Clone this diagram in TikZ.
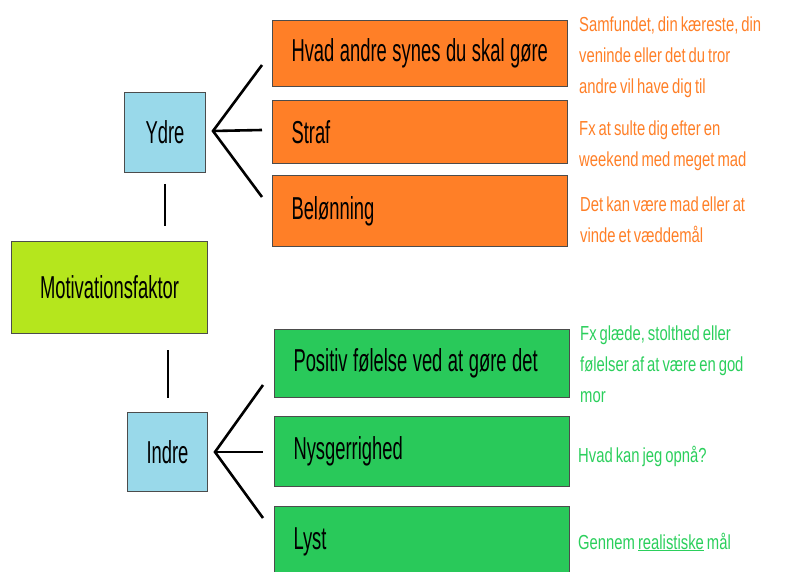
\documentclass[tikz,border=0pt]{standalone}
\usepackage{fontspec}
\setmainfont{Liberation Sans}
\newfontfamily\boxfont{Liberation Sans}[FakeStretch=0.58,WordSpace=1.08]
\newfontfamily\notefont{Liberation Sans}[FakeStretch=0.73,WordSpace=0.73]
\definecolor{ydreorange}{HTML}{FF7F27}
\definecolor{indregron}{HTML}{29C95A}
\definecolor{notegron}{HTML}{2BCF5C}
\definecolor{lyseblaa}{HTML}{99D9EA}
\definecolor{limegron}{HTML}{B5E61D}
\begin{document}
\begin{tikzpicture}[x=1pt,y=-1pt,
  kasse/.style={draw=black!70,line width=1pt,anchor=north west,inner sep=0pt,
    font=\boxfont\fontsize{31.7}{34}\selectfont},
  punkt/.style={kasse,inner xsep=19pt,text width=257pt,align=flush left},
  note/.style={anchor=base west,inner sep=0pt,align=left,
    font=\notefont\fontsize{20.3}{31}\selectfont},
  gren/.style={line width=2.6pt},
  stamme/.style={line width=2pt}]
\clip (0,0) rectangle (790,572);

\node[kasse,fill=limegron,minimum width=196pt,minimum height=92pt] (mot) at (11,241) {Motivationsfaktor};
\node[kasse,fill=lyseblaa,minimum width=81pt,minimum height=80pt] (ydre) at (124,92) {Ydre};
\node[kasse,fill=lyseblaa,minimum width=80pt,minimum height=79pt] (indre) at (127,412) {Indre};

\node[punkt,fill=ydreorange,minimum height=66pt] (hvad) at (272,20) {\mbox{Hvad andre synes du skal gøre}};
\node[punkt,fill=ydreorange,minimum height=63pt] (straf) at (272,100) {Straf};
\node[punkt,fill=ydreorange,minimum height=71pt] (beloen) at (272,175) {Belønning};
\node[punkt,fill=indregron,minimum height=68pt] (positiv) at (274,329) {\mbox{Positiv følelse ved at gøre det}};
\node[punkt,fill=indregron,minimum height=70pt] (nysg) at (274,416) {Nysgerrighed};
\node[punkt,fill=indregron,minimum height=70pt] (lyst) at (274,506) {Lyst};

% base = sidste linje
\node[note,text=ydreorange] (n1) at (579,94) {Samfundet, din kæreste, din\\veninde eller det du tror\\andre vil have dig til};
\node[note,text=ydreorange] (n2) at (579,167) {Fx at sulte dig efter en\\weekend med meget mad};
\node[note,text=ydreorange] (n3) at (580,243) {Det kan være mad eller at\\vinde et væddemål};
\node[note,text=notegron] (n4) at (580,402) {Fx glæde, stolthed eller\\følelser af at være en god\\mor};
\node[note,text=notegron] (n5) at (578,462) {Hvad kan jeg opnå?};
\node[note,text=notegron] (n6) at (578,549) {Gennem \underline{realistiske} mål};

% forgreninger
\coordinate (yfan) at (213,131);
\coordinate (y1) at (262,65);
\coordinate (y2) at (262,130);
\coordinate (y3) at (262,197);
\coordinate (ifan) at (215,452);
\coordinate (i1) at (263,385);
\coordinate (i2) at (263,452);
\coordinate (i3) at (263,518);

\draw[gren] (y1)--(yfan)--(y3);
\draw[gren] (yfan)--(y2);
\draw[gren] (i1)--(ifan)--(i3);
\draw[gren] (ifan)--(i2);

\draw[stamme,shorten <=11pt,shorten >=15pt] (ydre.south)--(ydre.south |- mot.north);
\draw[stamme,shorten <=16pt,shorten >=14pt] (indre.north |- mot.south)--(indre.north);
\end{tikzpicture}
\end{document}
